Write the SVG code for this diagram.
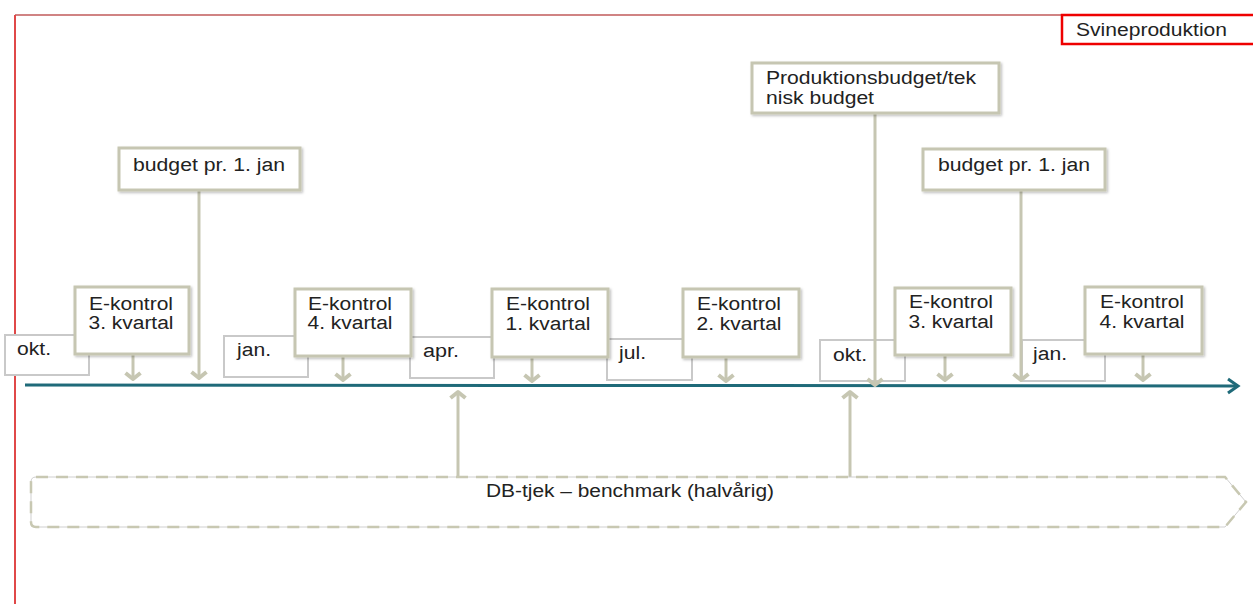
<svg xmlns="http://www.w3.org/2000/svg" width="1253" height="604" viewBox="0 0 1253 604">
<defs>
<style>
text{font-family:"Liberation Sans",Arial,sans-serif;font-size:18px;fill:#222;}
.mon{fill:#fff;stroke:#c9c9c9;stroke-width:2;}
.box{fill:#fff;stroke:#c6c6b2;stroke-width:3;}
.con{stroke:#c6c6b2;stroke-width:3;fill:none;}
.mid{text-anchor:middle;}
</style>
<marker id="ah" markerUnits="userSpaceOnUse" viewBox="-12 -10 14 20" refX="0" refY="0" markerWidth="14" markerHeight="20" orient="auto" overflow="visible">
<path d="M-7,-7.5 L-1,0 L-7,7.5" fill="none" stroke="#c6c6b2" stroke-width="4" stroke-linejoin="round"/>
</marker>
<marker id="th" markerUnits="userSpaceOnUse" viewBox="-12 -10 14 20" refX="0" refY="0" markerWidth="14" markerHeight="20" orient="auto" overflow="visible">
<path d="M-10,-7 L0,0 L-10,7" fill="none" stroke="#1f6a79" stroke-width="3"/>
</marker>
<filter id="sh" x="-10%" y="-10%" width="130%" height="130%">
<feDropShadow dx="1.5" dy="1.5" stdDeviation="1" flood-color="#000" flood-opacity="0.25"/>
</filter>
</defs>
<rect x="0" y="0" width="1253" height="604" fill="#fff"/>

<g id="frame">
<line x1="15" y1="15" x2="1062" y2="15" stroke="#c05a5a" stroke-width="1.5"/>
<line x1="15" y1="15" x2="15" y2="604" stroke="#e04848" stroke-width="2"/>
</g>
<g id="svineproduktion">
<rect x="1062" y="15" width="200" height="29" fill="#fff" stroke="#ee0000" stroke-width="2.5"/>
<text x="1076" y="36" textLength="151" lengthAdjust="spacingAndGlyphs">Svineproduktion</text>
</g>

<g id="months">
<g id="m-okt1"><rect class="mon" x="5" y="335" width="84" height="40"/><text x="17" y="355" textLength="34" lengthAdjust="spacingAndGlyphs">okt.</text></g>
<g id="m-jan1"><rect class="mon" x="224" y="336" width="84" height="41"/><text x="237" y="356" textLength="34" lengthAdjust="spacingAndGlyphs">jan.</text></g>
<g id="m-apr"><rect class="mon" x="410" y="337" width="84" height="41"/><text x="423" y="357" textLength="36" lengthAdjust="spacingAndGlyphs">apr.</text></g>
<g id="m-jul"><rect class="mon" x="607" y="339" width="85" height="41"/><text x="619" y="359" textLength="27" lengthAdjust="spacingAndGlyphs">jul.</text></g>
<g id="m-okt2"><rect class="mon" x="820" y="340" width="85" height="41"/><text x="833" y="361" textLength="34" lengthAdjust="spacingAndGlyphs">okt.</text></g>
<g id="m-jan2"><rect class="mon" x="1022" y="340" width="83" height="41"/><text x="1033" y="360" textLength="34" lengthAdjust="spacingAndGlyphs">jan.</text></g>
</g>

<g id="connectors">
<line x1="25" y1="385" x2="1238" y2="386" stroke="#1f6a79" stroke-width="3" marker-end="url(#th)"/>
<line class="con" x1="133" y1="355" x2="133" y2="380" marker-end="url(#ah)"/>
<line class="con" x1="343" y1="357" x2="343" y2="381" marker-end="url(#ah)"/>
<line class="con" x1="532" y1="358" x2="532" y2="382" marker-end="url(#ah)"/>
<line class="con" x1="726" y1="358" x2="726" y2="382" marker-end="url(#ah)"/>
<line class="con" x1="945" y1="355" x2="945" y2="381" marker-end="url(#ah)"/>
<line class="con" x1="1143" y1="355" x2="1143" y2="381" marker-end="url(#ah)"/>
<line class="con" x1="199" y1="191" x2="199" y2="379" marker-end="url(#ah)"/>
<line class="con" x1="1021" y1="190" x2="1021" y2="381" marker-end="url(#ah)"/>
<line class="con" x1="875" y1="113" x2="875" y2="386" marker-end="url(#ah)"/>
<line class="con" x1="458" y1="477" x2="458" y2="391" marker-end="url(#ah)"/>
<line class="con" x1="850" y1="477" x2="850" y2="391" marker-end="url(#ah)"/>
</g>

<g id="ek1"><rect class="box" x="75" y="287" width="114" height="67" filter="url(#sh)"/><text class="mid" x="131" y="310" textLength="84" lengthAdjust="spacingAndGlyphs">E-kontrol</text><text class="mid" x="131" y="329" textLength="85" lengthAdjust="spacingAndGlyphs">3. kvartal</text></g>
<g id="ek2"><rect class="box" x="295" y="289" width="116" height="67" filter="url(#sh)"/><text class="mid" x="350" y="310" textLength="84" lengthAdjust="spacingAndGlyphs">E-kontrol</text><text class="mid" x="350" y="329" textLength="85" lengthAdjust="spacingAndGlyphs">4. kvartal</text></g>
<g id="ek3"><rect class="box" x="492" y="289" width="116" height="68" filter="url(#sh)"/><text class="mid" x="548" y="310" textLength="84" lengthAdjust="spacingAndGlyphs">E-kontrol</text><text class="mid" x="548" y="330" textLength="85" lengthAdjust="spacingAndGlyphs">1. kvartal</text></g>
<g id="ek4"><rect class="box" x="683" y="289" width="116" height="68" filter="url(#sh)"/><text class="mid" x="739" y="310" textLength="84" lengthAdjust="spacingAndGlyphs">E-kontrol</text><text class="mid" x="739" y="330" textLength="85" lengthAdjust="spacingAndGlyphs">2. kvartal</text></g>
<g id="ek5"><rect class="box" x="895" y="288" width="116" height="67" filter="url(#sh)"/><text class="mid" x="951" y="308" textLength="84" lengthAdjust="spacingAndGlyphs">E-kontrol</text><text class="mid" x="951" y="328" textLength="85" lengthAdjust="spacingAndGlyphs">3. kvartal</text></g>
<g id="ek6"><rect class="box" x="1085" y="287" width="117" height="67" filter="url(#sh)"/><text class="mid" x="1142" y="308" textLength="84" lengthAdjust="spacingAndGlyphs">E-kontrol</text><text class="mid" x="1142" y="328" textLength="85" lengthAdjust="spacingAndGlyphs">4. kvartal</text></g>

<g id="budget1"><rect class="box" x="119" y="148" width="181" height="42" filter="url(#sh)"/><text x="133" y="171" textLength="152" lengthAdjust="spacingAndGlyphs">budget pr. 1. jan</text></g>
<g id="budget2"><rect class="box" x="923" y="149" width="182" height="41" filter="url(#sh)"/><text x="938" y="171" textLength="152" lengthAdjust="spacingAndGlyphs">budget pr. 1. jan</text></g>
<g id="prodbudget"><rect class="box" x="752" y="63" width="247" height="50" filter="url(#sh)"/><text x="766" y="84" textLength="210" lengthAdjust="spacingAndGlyphs">Produktionsbudget/tek</text><text x="766" y="104" textLength="108" lengthAdjust="spacingAndGlyphs">nisk budget</text></g>

<g id="dbtjek">
<path d="M36,477 L1225,477 L1246,502 L1225,527 L36,527 Q31,527 31,522 L31,482 Q31,477 36,477 Z" fill="none" stroke="#cfcfcf" stroke-width="1"/>
<path d="M36,477 L1225,477 L1246,502 L1225,527 L36,527 Q31,527 31,522 L31,482 Q31,477 36,477 Z" fill="none" stroke="#c8c8b2" stroke-width="2.5" stroke-dasharray="12 8"/>
<text x="486" y="497" textLength="288" lengthAdjust="spacingAndGlyphs">DB-tjek – benchmark (halvårig)</text>
</g>
</svg>
